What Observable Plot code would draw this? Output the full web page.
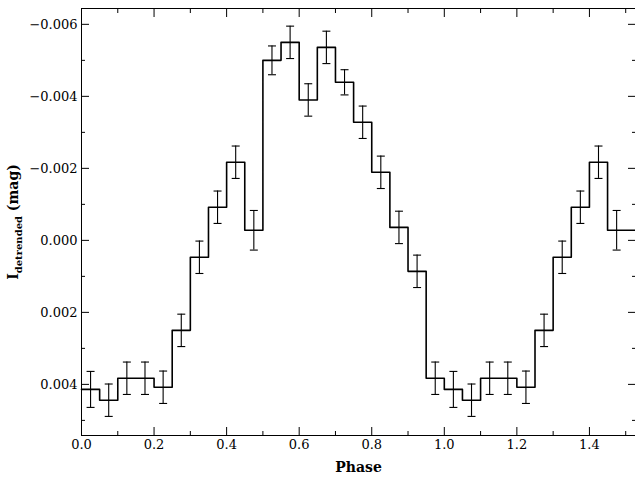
<!DOCTYPE html>
<html><head><meta charset="utf-8">
<script src="https://cdn.jsdelivr.net/npm/d3@7"></script>
<script src="https://cdn.jsdelivr.net/npm/@observablehq/plot@0.6"></script>
<style>body{margin:0;background:#fff}</style>
</head><body><div id="chart"></div>
<script>
// one cycle of binned magnitudes (bin width 0.05), repeated for phase 1-1.5
const binWidth = 0.05
const mags = [0.00414, 0.00444, 0.00383, 0.00383, 0.00408, 0.0025, 0.00047, -0.00092, -0.00217, -0.00028,
  -0.005, -0.0055, -0.0039, -0.00536, -0.00439, -0.00328, -0.00189, -0.00036, 0.00086, 0.00383]
const errs = [0.0005, 0.00045, 0.00045, 0.00045, 0.00045, 0.00045, 0.00045, 0.00045, 0.00045, 0.00055,
  0.0004, 0.00045, 0.00045, 0.00045, 0.00035, 0.00045, 0.00045, 0.00045, 0.00045, 0.00045]
const nBins = 30
const xMajor = [0, 0.2, 0.4, 0.6, 0.8, 1.0, 1.2, 1.4]
const xMinor = [0.1, 0.3, 0.5, 0.7, 0.9, 1.1, 1.3, 1.5]
const yMajor = [-0.006, -0.004, -0.002, 0, 0.002, 0.004]
const yMinor = [-0.005, -0.003, -0.001, 0.001, 0.003, 0.005]

const bins = d3.range(nBins).map(i => ({x0: i * binWidth, x: i * binWidth + binWidth / 2, y: mags[i % 20], e: errs[i % 20]}))
const steps = bins.map(d => ({x: d.x0, y: d.y})).concat([{x: 1.53, y: bins[nBins - 1].y}])

const font = "'DejaVu Serif', serif"
const fmt = d => d === 0 ? "0.000" : (d < 0 ? "\u2212" : "") + Math.abs(d).toFixed(3)

let chart = Plot.plot({
  width: 635, height: 477,
  marginLeft: 81, marginRight: 0, marginTop: 8, marginBottom: 42,
  style: {fontFamily: font, fontSize: "13px", color: "#000", background: "#fff"},
  x: {domain: [0, 1.527], label: null},
  y: {domain: [0.00542, -0.00644], label: null},
  marks: [
    Plot.frame({stroke: "#000"}),
    Plot.axisX({ticks: xMajor, tickFormat: d => d.toFixed(1), tickSize: -8, tickPadding: 12, fontSize: 13}),
    Plot.axisX({anchor: "top", ticks: xMajor, tickSize: -8, text: null}),
    Plot.axisX({ticks: xMinor, tickSize: -4, text: null}),
    Plot.axisX({anchor: "top", ticks: xMinor, tickSize: -4, text: null}),
    Plot.axisY({ticks: yMajor, tickFormat: fmt, tickSize: -8, tickPadding: 12, fontSize: 13}),
    Plot.axisY({anchor: "right", ticks: yMajor, tickSize: -8, text: null}),
    Plot.axisY({ticks: yMinor, tickSize: -4, text: null}),
    Plot.axisY({anchor: "right", ticks: yMinor, tickSize: -4, text: null}),
    Plot.line(steps, {x: "x", y: "y", curve: "step-after", stroke: "#000", strokeWidth: 1.6}),
    Plot.ruleX(bins, {x: "x", y1: d => d.y - d.e, y2: d => d.y + d.e, stroke: "#000", strokeWidth: 1.1}),
    Plot.link(bins, {x1: d => d.x - 0.011, x2: d => d.x + 0.011, y1: d => d.y - d.e, y2: d => d.y - d.e, stroke: "#000", strokeWidth: 1.1}),
    Plot.link(bins, {x1: d => d.x - 0.011, x2: d => d.x + 0.011, y1: d => d.y + d.e, y2: d => d.y + d.e, stroke: "#000", strokeWidth: 1.1}),
    Plot.text(["Phase"], {frameAnchor: "bottom", dy: 36, fontSize: 14, fontWeight: "bold", text: d => d})
  ]
})

// y label with subscript
const svg = d3.select(chart)
const t = svg.append("text")
  .attr("transform", "translate(18,222) rotate(-90)")
  .attr("text-anchor", "middle")
  .attr("font-family", font).attr("font-size", 14).attr("font-weight", "bold")
t.append("tspan").text("I")
t.append("tspan").attr("dy", 4).attr("font-size", 10).text("detrended")
t.append("tspan").attr("dy", -4).text(" (mag)")

d3.select('#chart').append(() => chart)
</script></body></html>
